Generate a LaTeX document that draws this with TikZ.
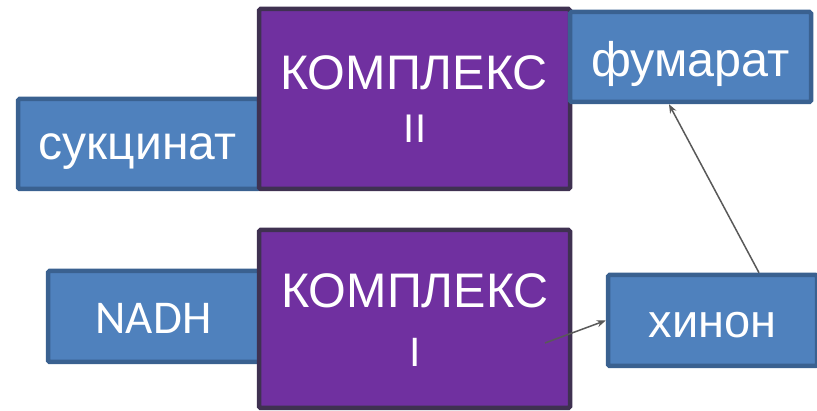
\documentclass[tikz,border=0pt]{standalone}
\usepackage{fontspec}
\setmainfont{Liberation Sans}
\newfontfamily\calib{Carlito}
\usetikzlibrary{arrows.meta,calc}
\definecolor{bfill}{HTML}{4F81BD}
\definecolor{bline}{HTML}{3A6190}
\definecolor{pfill}{HTML}{7030A0}
\definecolor{pline}{HTML}{3F3151}
\definecolor{arr}{HTML}{595959}
\tikzset{
  bluebox/.style={draw=bline,fill=bfill,line width=4.5pt,rounded corners=1.5pt,inner sep=0pt},
  purplebox/.style={draw=pline,fill=pfill,line width=4.5pt,rounded corners=1.5pt,inner sep=0pt},
  lbl/.style={text=white,anchor=base,inner sep=0pt},
  conn/.style={draw=arr,line width=1.5pt,-{Stealth[length=9pt,width=7pt]}}
}
\begin{document}
\begin{tikzpicture}[x=1pt,y=-1pt]
\useasboundingbox (0,0) rectangle (817,411);
% blue boxes under the complexes
\node[bluebox,minimum width=241pt,minimum height=90pt] (suc) at (138.5,144) {};
\node[bluebox,minimum width=212pt,minimum height=91pt] (nadh) at (154,316.5) {};
\node[bluebox,minimum width=209pt,minimum height=91pt] (xin) at (712.5,320.5) {};
% complexes
\node[purplebox,minimum width=311pt,minimum height=180pt] (k2) at (414.5,99) {};
\node[purplebox,minimum width=311pt,minimum height=178pt] (k1) at (414.5,319) {};
\node[bluebox,minimum width=241pt,minimum height=90pt] (fum) at (690.5,57) {};
% texts
\node[lbl,font=\fontsize{48}{48}\selectfont] (tsuc) at (137.5,160) {сукцинат};
\node[lbl,font=\fontsize{48.5}{48.5}\selectfont] (tfum) at (690.5,77) {фумарат};
\node[lbl,font=\calib\fontsize{47}{47}\selectfont] (tnadh) at (153.5,334) {NADH};
\node[lbl,font=\fontsize{47}{47}\selectfont] (txin) at (712.5,338) {хинон};
\node[lbl,font=\fontsize{48.5}{48.5}\selectfont] (tk2a) at (414,90) {КОМПЛЕКС};
\node[lbl,font=\fontsize{40}{40}\selectfont] (tk2b) at (415,143) {II};
\node[lbl,font=\fontsize{48.5}{48.5}\selectfont] (tk1a) at (415,308) {КОМПЛЕКС};
\node[lbl,font=\fontsize{41}{41}\selectfont] (tk1b) at (415,367) {I};
% connectors
\coordinate (s1) at (545,343);
\draw[conn] (s1) -- (xin.west);
\draw[conn] ([xshift=46.5pt]xin.north) -- ([xshift=-21.5pt]fum.south);
\end{tikzpicture}
\end{document}
